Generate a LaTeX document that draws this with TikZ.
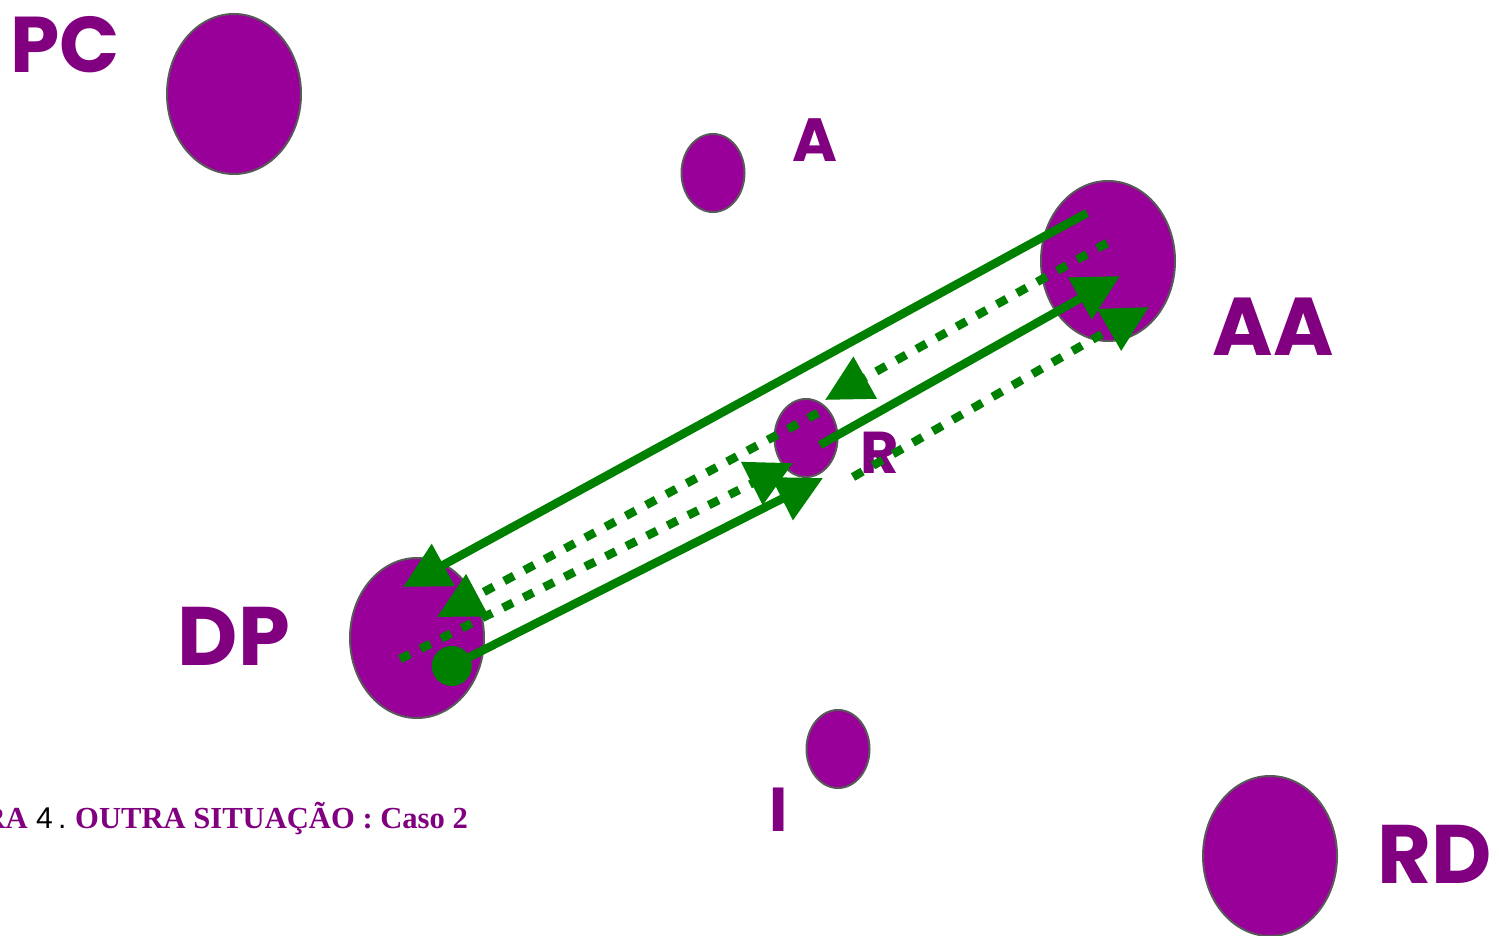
\documentclass[tikz,border=0pt]{standalone}
\usepackage{fontspec}
\usetikzlibrary{shapes.geometric,arrows.meta}
\newfontfamily\labfont{Poppins}
\newfontfamily\capfont{Liberation Serif}
\newfontfamily\numfont{Liberation Sans}
\definecolor{blobc}{HTML}{990099}
\definecolor{labc}{HTML}{800080}
\definecolor{arrc}{HTML}{008000}
\definecolor{rimc}{HTML}{595959}
\begin{document}
\begin{tikzpicture}[x=1pt,y=-1pt,
  spot/.style={ellipse, draw=rimc, line width=2pt, fill=blobc, inner sep=0pt},
  big/.style={spot, minimum width=134pt, minimum height=160pt},
  small/.style={spot, minimum width=63pt, minimum height=78pt},
  lab/.style={text=labc, anchor=base, inner sep=0pt},
  link/.style={draw=arrc, line width=8.5pt, -{Triangle[length=46pt,width=46pt]}},
  dotlink/.style={link, dash pattern=on 11pt off 12pt},
  capt/.style={anchor=base west, inner sep=0pt, font=\capfont\bfseries\fontsize{30.6}{30.6}\selectfont, text=labc}]
\useasboundingbox (0,0) rectangle (1499,936);
% ellipses
\node[big] (PC) at (234,94) {};
\node[small] (A) at (713,173) {};
\node[big] (AA) at (1108,261) {};
\node[small] (R) at (806,438) {};
\node[big] (DP) at (417,638) {};
\node[small] (I) at (838,749) {};
\node[big] (RD) at (1270,856) {};
% labels
\node[lab, font=\labfont\bfseries\fontsize{79}{79}\selectfont] (lPC) at (65,73) {PC};
\node[lab, font=\labfont\bfseries\fontsize{61}{61}\selectfont] (lA) at (815,162) {A};
\node[lab, font=\labfont\bfseries\fontsize{82}{82}\selectfont] (lAA) at (1273,355) {AA};
\node[lab, font=\labfont\bfseries\fontsize{59}{59}\selectfont] (lR) at (880,473) {R};
\node[lab, font=\labfont\bfseries\fontsize{83}{83}\selectfont] (lDP) at (234,665) {DP};
\node[lab, font=\labfont\bfseries\fontsize{62}{62}\selectfont] (lI) at (779,831) {I};
\node[lab, font=\labfont\bfseries\fontsize{83}{83}\selectfont] (lRD) at (1435,883) {RD};
% caption
\node[capt, anchor=base east] (c1) at (28,828) {RA};
\node[capt, text=black, font=\numfont\fontsize{30}{30}\selectfont] (c2) at (36,828) {4};
\node[capt, text=black, font=\numfont\fontsize{30}{30}\selectfont] (c3) at (58,828) {.};
\node[capt] (c4) at (75,828) {OUTRA SITUAÇÃO : Caso 2};
% arrow end points
\coordinate (s1) at (1087,213); \coordinate (t1) at (403,587);
\coordinate (s2) at (434,675);  \coordinate (t2) at (823,478);
\coordinate (s3) at (820,445);  \coordinate (t3) at (1120,276);
\coordinate (s4) at (1107,243); \coordinate (t4) at (825,400);
\coordinate (s5) at (818,413);  \coordinate (t5) at (437,617);
\coordinate (s6) at (400,659);  \coordinate (t6) at (793,463);
\coordinate (s7) at (853,477);  \coordinate (t7) at (1149,307);
% arrows
\draw[link] (s1) -- (t1);
\draw[link, {Circle[length=40pt]}-{Triangle[length=46pt,width=46pt]}] (s2) -- (t2);
\draw[link] (s3) -- (t3);
\draw[dotlink] (s4) -- (t4);
\draw[dotlink] (s5) -- (t5);
\draw[dotlink] (s6) -- (t6);
\draw[dotlink] (s7) -- (t7);
\end{tikzpicture}
\end{document}
